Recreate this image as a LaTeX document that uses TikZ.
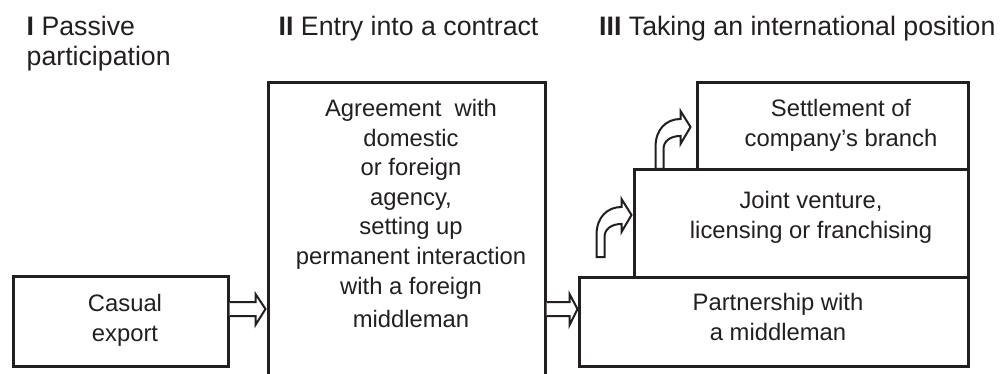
\documentclass[tikz,border=0pt]{standalone}
\usepackage{fontspec}
\setmainfont{Liberation Sans}
\usetikzlibrary{calc}
\definecolor{ink}{HTML}{231F20}
\begin{document}
\begin{tikzpicture}[x=1pt,y=-1pt,
  box/.style={draw=ink, line width=3pt, inner sep=0pt},
  boxtext/.style={text=ink, align=center, inner sep=0pt, anchor=north,
    font=\fontsize{23.8}{29.6}\selectfont},
  head/.style={text=ink, align=left, inner sep=0pt, anchor=north west,
    font=\fontsize{26.7}{30}\selectfont},
  arrowline/.style={draw=ink, line width=2pt, line join=miter, fill=white},
  bentarrow/.pic={
    \draw[arrowline] (0,0) -- (-10,-16) -- (-10,-8)
      .. controls (-24,-8) and (-35,2) .. (-35,20) -- (-35,42) -- (-27,42)
      -- (-27,22) .. controls (-27,14) and (-20,9) .. (-10,9)
      -- (-10,17) -- cycle;
  }]
\useasboundingbox (0,0) rectangle (1003,374);
\clip (0,0) rectangle (1003,374);

% stage headings
\node[head] (h1) at (26.5,16) {\textbf{I} Passive\\participation};
\node[head] (h2) at (278.5,16) {\textbf{II} Entry into a contract};
\node[head] (h3) at (599,16) {\textbf{III} Taking an international position};

% boxes
\node[box, minimum width=215pt, minimum height=90pt] (box1) at (120.5,321) {};
\node[box, minimum width=277pt, minimum height=326pt] (box2) at (406.5,246) {};
\node[box, minimum width=389pt, minimum height=89pt] (box3) at (773.5,321.5) {};
\node[box, minimum width=334pt, minimum height=107pt] (box4) at (801,223.5) {};
\node[box, minimum width=271pt, minimum height=87pt] (box5) at (832.5,126.5) {};

% box texts
\node[boxtext] (t1) at (125,294) {Casual\\export};
\node[boxtext] (t2) at (411,99) {Agreement\ \ with\\domestic\\or foreign\\agency,\\setting up\\permanent interaction\\with a foreign\\[4pt]middleman};
\node[boxtext] (t3) at (778,293) {Partnership with\\a middleman};
\node[boxtext] (t4) at (811,191) {Joint venture,\\licensing or franchising};
\node[boxtext] (t5) at (841,99) {Settlement of\\company’s branch};

% hollow arrows between stages
\draw[arrowline] ($(box1.east)+(0,-19)$)
  -- ($(box2.west|-box1.east)+(-11,-19)$) -- ++(0,-8)
  -- ($(box2.west|-box1.east)+(-1,-12)$)
  -- ($(box2.west|-box1.east)+(-11,4)$) -- ++(0,-9)
  -- ($(box1.east)+(0,-5)$);
\draw[arrowline] ($(box2.east|-box3.west)+(0,-19.5)$)
  -- ($(box3.west)+(-8,-19.5)$) -- ++(0,-8)
  -- ($(box3.west)+(0,-12.5)$)
  -- ($(box3.west)+(-8,3.5)$) -- ++(0,-9)
  -- ($(box2.east|-box3.west)+(0,-5.5)$);

% bent arrows climbing to higher levels
\pic at ($(box4.west)+(-1,-8.5)$) {bentarrow};
\pic at ($(box5.west)+(-5,0.5)$) {bentarrow};
\end{tikzpicture}
\end{document}
